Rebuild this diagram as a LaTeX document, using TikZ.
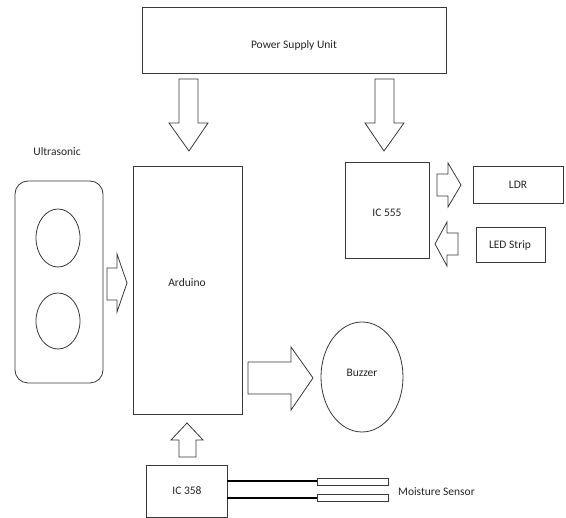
\documentclass[tikz,border=0pt]{standalone}
\usepackage{fontspec}
\setmainfont{Carlito}
\begin{document}
\begin{tikzpicture}[x=1pt,y=-1pt,
  line/.style={draw=black!78,line width=0.8pt},
  blk/.style={line,fill=white},
  arr/.style={line,line join=miter},
  txt/.style={font=\fontsize{11.5}{13}\selectfont,text=black!85,inner sep=0pt},
  wire/.style={draw=black,line width=1.6pt}]
\useasboundingbox (0,0) rectangle (566,518);
% boxes
\draw[blk] (142,7) rectangle (446,73);
\node[txt] (psu) at (294,45) {Power Supply Unit};
\draw[blk] (133,166) rectangle (242,414);
\node[txt] (ard) at (187,283) {Arduino};
\draw[blk] (345,162) rectangle (429,258);
\node[txt] (ic555) at (387,213) {IC 555};
\draw[blk] (473,166) rectangle (563,203);
\node[txt] (ldr) at (518,185) {LDR};
\draw[blk] (476,227) rectangle (545,262);
\node[txt] (led) at (510,245) {LED Strip};
\draw[blk] (146,465) rectangle (227,517);
\node[txt] (ic358) at (187,491) {IC 358};
% ultrasonic
\node[txt] (ultra) at (57,152) {Ultrasonic};
\draw[blk,rounded corners=13pt] (15,181) rectangle (103,383);
\draw[line] (58,238) ellipse [x radius=22,y radius=29];
\draw[line] (58,321) ellipse [x radius=22,y radius=28];
% buzzer
\draw[line] (362,377) ellipse [x radius=41,y radius=55];
\node[txt] (buz) at (362,373) {Buzzer};
% block arrows
\draw[arr] (179,79) -- (198,79) -- (198,123) -- (208,123) -- (189,151) -- (169,123) -- (179,123) -- cycle;
\draw[arr] (375,79) -- (394,79) -- (394,123) -- (404,123) -- (384,151) -- (365,123) -- (375,123) -- cycle;
\draw[arr] (107,268) -- (117,268) -- (117,254) -- (127,283) -- (117,312) -- (117,300) -- (107,300) -- cycle;
\draw[arr] (437,174) -- (448,174) -- (448,163) -- (461,185) -- (448,207) -- (448,196) -- (437,196) -- cycle;
\draw[arr] (458,233) -- (447,233) -- (447,222) -- (435,244) -- (447,266) -- (447,255) -- (458,255) -- cycle;
\draw[arr] (248,362) -- (291,362) -- (291,347) -- (313,378) -- (291,410) -- (291,394) -- (248,394) -- cycle;
\draw[arr] (179,457) -- (179,440) -- (171,440) -- (187,423) -- (203,440) -- (196,440) -- (196,457) -- cycle;
% moisture sensor
\draw[wire] (227,481) -- (317,481);
\draw[wire] (227,498) -- (317,498);
\draw[line] (317,478) rectangle (388,485);
\draw[line] (317,494) rectangle (388,501);
\node[txt,anchor=west] (ms) at (398,492) {Moisture Sensor};
\end{tikzpicture}
\end{document}
